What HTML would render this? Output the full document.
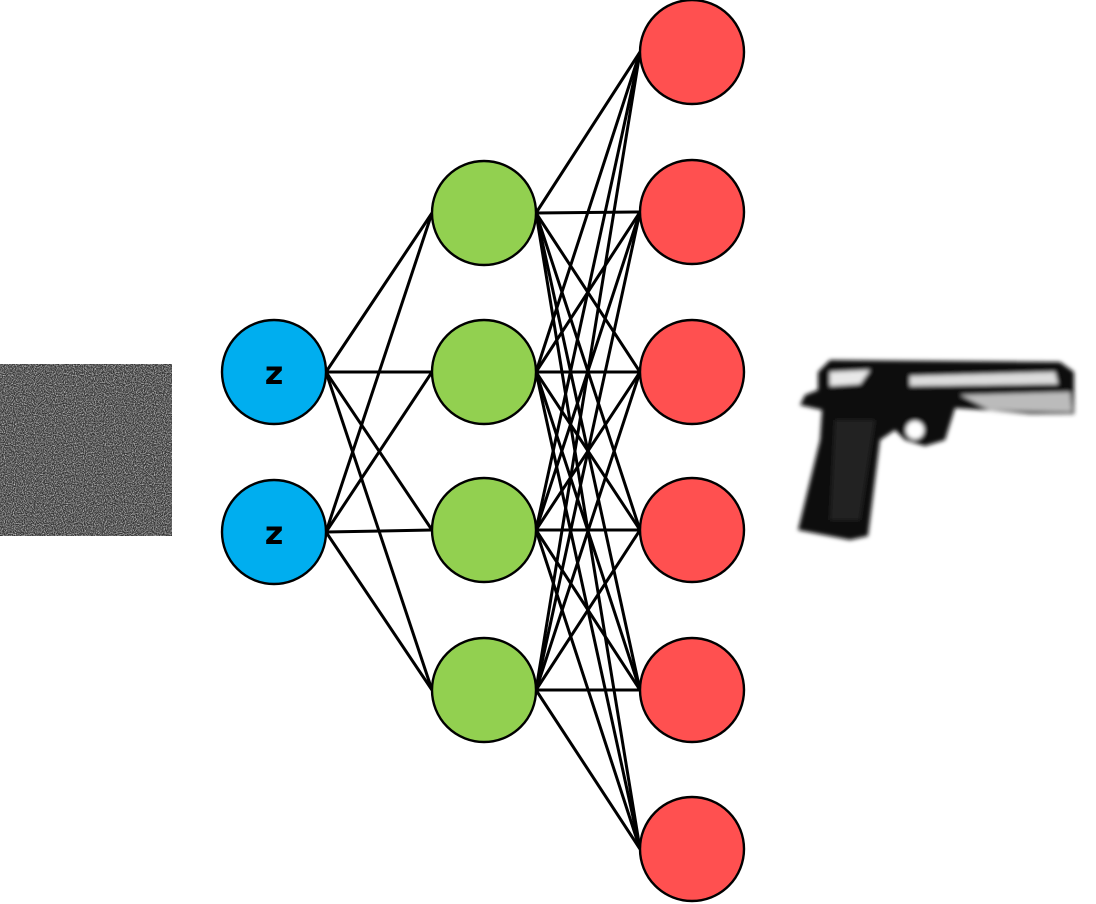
<!DOCTYPE html>
<html><head><meta charset="utf-8"><style>
html,body{margin:0;padding:0;background:#fff;}
svg{display:block;}
</style></head><body>
<svg id="c" width="1096" height="904" viewBox="0 0 1096 904">
<defs>
<filter id="noise" x="0" y="0" width="100%" height="100%">
<feTurbulence type="fractalNoise" baseFrequency="0.9" numOctaves="2" seed="3"/>
<feColorMatrix type="matrix" values="0 0 0 0 0  0 0 0 0 0  0 0 0 0 0  0 0 0 1 0"/>
<feComponentTransfer><feFuncA type="linear" slope="2.4" intercept="-0.9"/></feComponentTransfer>
<feColorMatrix type="matrix" values="0 0 0 0 1  0 0 0 0 1  0 0 0 0 1  0 0 0 1 0"/>
</filter>
<filter id="blur"><feGaussianBlur stdDeviation="2"/></filter>
</defs>
<g>
<rect x="0" y="364" width="172" height="172" fill="#333"/>
<rect x="0" y="364" width="172" height="172" filter="url(#noise)" opacity="0.7"/>
</g>
<g id="edges"></g>
<g id="nodes"></g>
<g filter="url(#blur)">
<path d="M818 372 L830 360 L1060 362 L1074 372 L1074 414 L1030 414 L985 410 L955 408 L945 440 L925 446 L905 440 L895 430 L880 440 L868 536 L850 540 L798 530 L820 440 L822 410 L800 405 L805 395 L818 390 Z" fill="#111"/>
<path d="M830 372 L870 370 L860 384 L830 386 Z" fill="#e8e8e8"/>
<path d="M910 376 L1055 372 L1058 384 L910 386 Z" fill="#dcdcdc"/>
<path d="M960 395 L1070 392 L1072 412 L990 410 Z" fill="#bbb"/>
<circle cx="915" cy="430" r="9" fill="#fff"/>
<path d="M835 420 L875 420 L860 520 L830 520 Z" fill="#222"/>
</g>
</svg>
<script>
const blueY=[372,532];
const greenY=[213,372,530,690];
const redY=[52,212,372,530,690,849];
const xs={blue:274,green:484,red:692};
const R=52;
const NS='http://www.w3.org/2000/svg';
const E=document.getElementById('edges'),N=document.getElementById('nodes');
function line(x1,y1,x2,y2,name){
 const l=document.createElementNS(NS,'line');
 l.setAttribute('x1',x1);l.setAttribute('y1',y1);l.setAttribute('x2',x2);l.setAttribute('y2',y2);
 l.setAttribute('stroke','#000');l.setAttribute('stroke-width','3');
 
 
 E.appendChild(l);
}
blueY.forEach(a=>greenY.forEach(b=>line(xs.blue+R,a,xs.green-R,b,'edge-input-hidden')));
greenY.forEach(a=>redY.forEach(b=>line(xs.green+R,a,xs.red-R,b,'edge-hidden-output')));
function node(x,y,fill,name,label){
 const c=document.createElementNS(NS,'circle');
 c.setAttribute('cx',x);c.setAttribute('cy',y);c.setAttribute('r',R);
 c.setAttribute('fill',fill);c.setAttribute('stroke','#000');c.setAttribute('stroke-width','2.4');
 
 
 N.appendChild(c);
 if(label){
  const t=document.createElementNS(NS,'text');
  t.setAttribute('x',x);t.setAttribute('y',y+12);t.setAttribute('text-anchor','middle');
  t.setAttribute('font-family','DejaVu Sans, sans-serif');t.setAttribute('font-weight','bold');t.setAttribute('font-size','32');
  t.textContent=label;
  
  
  N.appendChild(t);
 }
}
blueY.forEach(y=>node(xs.blue,y,'#00aeef','latent-node','z'));
greenY.forEach(y=>node(xs.green,y,'#92d050','hidden-node'));
redY.forEach(y=>node(xs.red,y,'#ff5050','output-node'));
</script>
</body></html>
